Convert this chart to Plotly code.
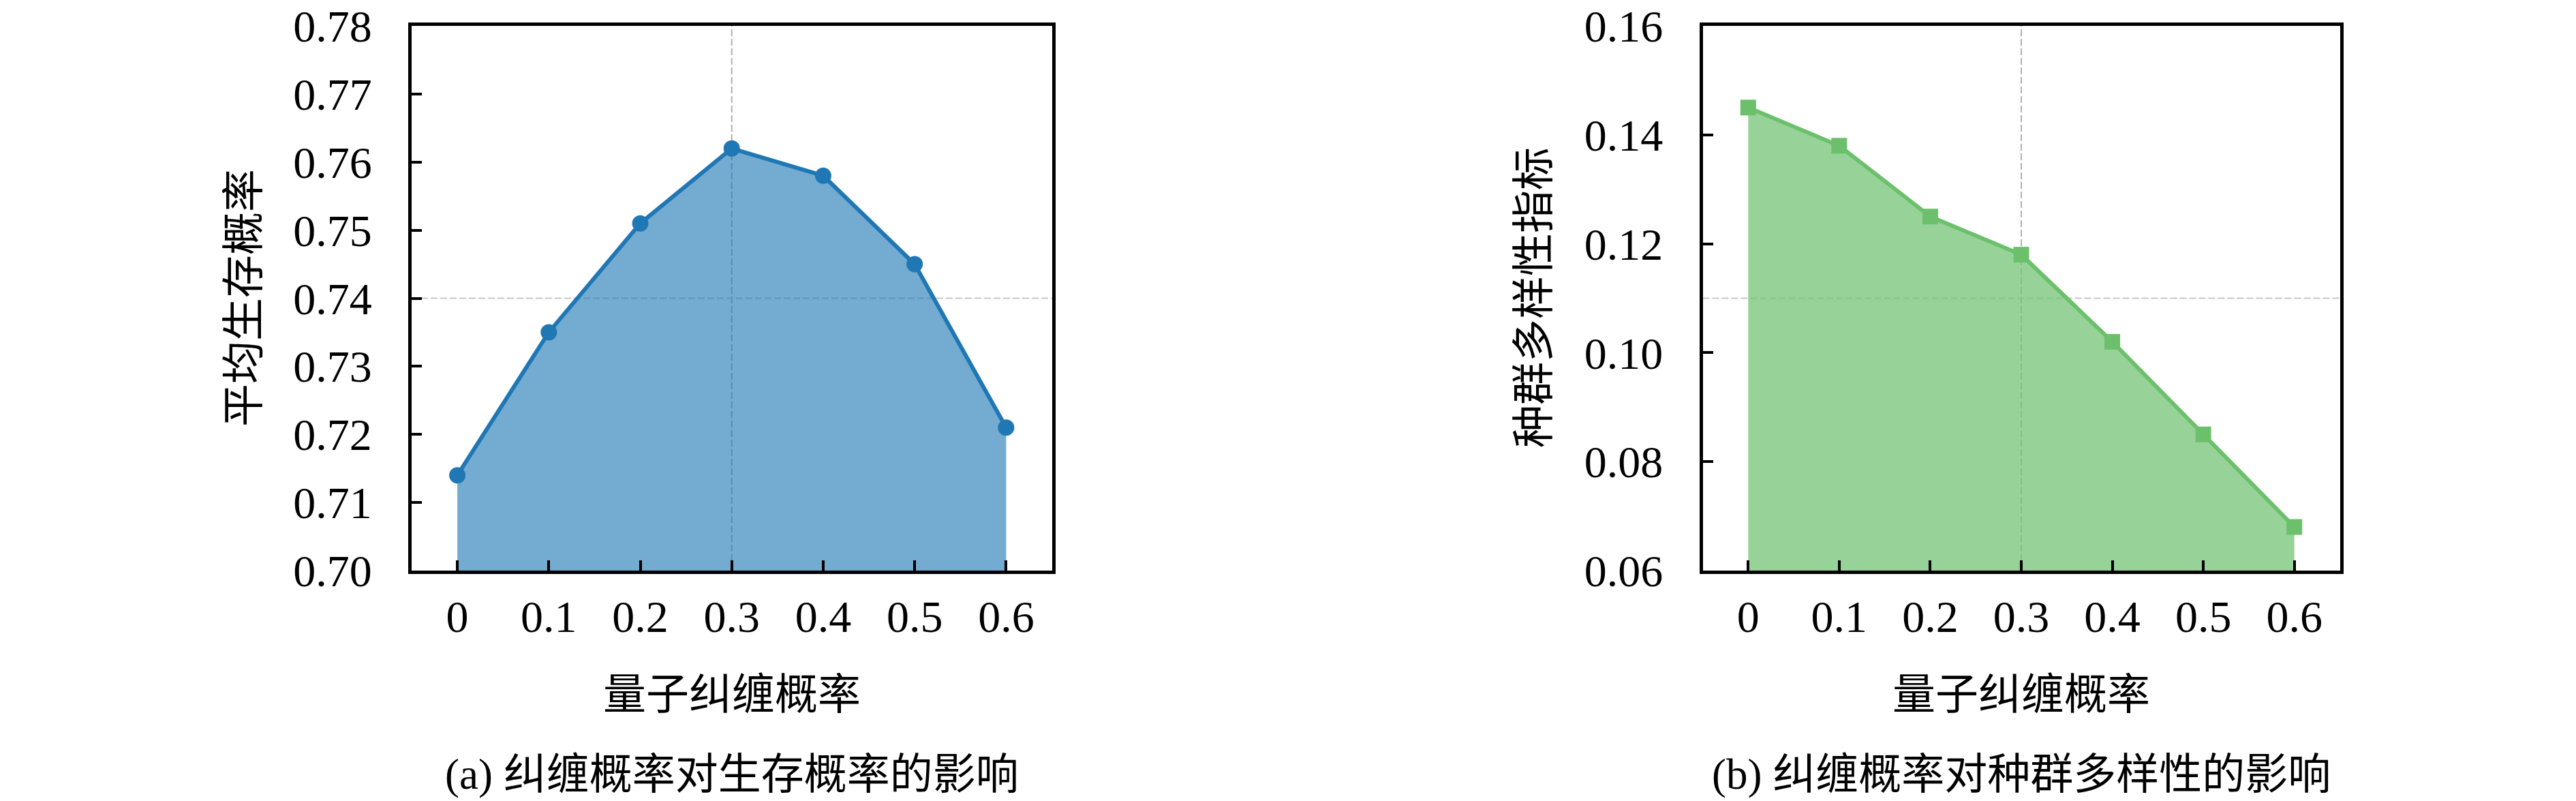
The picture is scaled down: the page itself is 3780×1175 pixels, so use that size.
import plotly.graph_objects as go

# ---------------- data ----------------
entangle_prob = [0.0, 0.1, 0.2, 0.3, 0.4, 0.5, 0.6]
x_ticktext = ["0", "0.1", "0.2", "0.3", "0.4", "0.5", "0.6"]

survival = [0.714, 0.735, 0.751, 0.762, 0.758, 0.745, 0.721]
survival_ticks = [0.70, 0.71, 0.72, 0.73, 0.74, 0.75, 0.76, 0.77, 0.78]
survival_ticktext = ["0.70", "0.71", "0.72", "0.73", "0.74", "0.75", "0.76", "0.77", "0.78"]

diversity = [0.145, 0.138, 0.125, 0.118, 0.102, 0.085, 0.068]
diversity_ticks = [0.06, 0.08, 0.10, 0.12, 0.14, 0.16]
diversity_ticktext = ["0.06", "0.08", "0.10", "0.12", "0.14", "0.16"]

x_title = "量子纠缠概率"
y_title_a = "平均生存概率"
y_title_b = "种群多样性指标"
caption_a = "(a) 纠缠概率对生存概率的影响"
caption_b = "(b) 纠缠概率对种群多样性的影响"

# ---------------- style ----------------
W, H = 3780, 1175
FONT = "Liberation Serif, Noto Sans CJK SC, serif"
TICK_SIZE = 66
TITLE_SIZE = 63
BLUE = "#1f77b4"
GREEN = "#6cc06c"

fig = go.Figure()

fig.add_trace(go.Scatter(
    x=entangle_prob, y=survival, mode="lines+markers",
    line=dict(color=BLUE, width=6),
    marker=dict(symbol="circle", size=24, color=BLUE),
    fill="tozeroy", fillcolor="rgba(31,119,180,0.62)",
    xaxis="x", yaxis="y", showlegend=False,
))
fig.add_trace(go.Scatter(
    x=entangle_prob, y=diversity, mode="lines+markers",
    line=dict(color=GREEN, width=6),
    marker=dict(symbol="square", size=23, color=GREEN),
    fill="tozeroy", fillcolor="rgba(116,196,118,0.75)",
    xaxis="x2", yaxis="y2", showlegend=False,
))

ydom = [1 - 837 / H, 1 - 38 / H]
xdom1 = [604 / W, 1543.5 / W]
xdom2 = [2498.5 / W, 3433.5 / W]

common_axis = dict(
    showline=True, linecolor="black", linewidth=5, mirror=True,
    ticks="inside", ticklen=15, tickwidth=4, tickcolor="black",
    showgrid=False, zeroline=False, automargin=False,
    tickfont=dict(family=FONT, size=TICK_SIZE, color="black"),
)

fig.update_layout(
    width=W, height=H,
    margin=dict(l=0, r=0, t=0, b=0, autoexpand=False),
    paper_bgcolor="white", plot_bgcolor="white",
    xaxis=dict(domain=xdom1, range=[-0.05, 0.65], anchor="y",
               tickvals=entangle_prob, ticktext=x_ticktext,
               ticklabelstandoff=6, **common_axis),
    yaxis=dict(domain=ydom, range=[0.70, 0.78], anchor="x",
               tickvals=survival_ticks, ticktext=survival_ticktext,
               ticklabelstandoff=40, **common_axis),
    xaxis2=dict(domain=xdom2, range=[-0.05, 0.65], anchor="y2",
                tickvals=entangle_prob, ticktext=x_ticktext,
                ticklabelstandoff=6, **common_axis),
    yaxis2=dict(domain=ydom, range=[0.06, 0.16], anchor="x2",
                tickvals=diversity_ticks, ticktext=diversity_ticktext,
                ticklabelstandoff=40, **common_axis),
)

# reference dashed lines
grid_v = dict(color="#b0b0b0", width=2, dash="10px,4px")
grid_h = dict(color="#c8c8c8", width=2, dash="10px,4px")
fig.add_shape(type="line", xref="x", yref="y domain", x0=0.3, x1=0.3, y0=0, y1=1,
              line=grid_v, layer="below")
fig.add_shape(type="line", xref="x domain", yref="y", x0=0, x1=1, y0=0.74, y1=0.74,
              line=grid_h, layer="below")
fig.add_shape(type="line", xref="x2", yref="y2 domain", x0=0.3, x1=0.3, y0=0, y1=1,
              line=grid_v, layer="below")
fig.add_shape(type="line", xref="x2 domain", yref="y2", x0=0, x1=1, y0=0.11, y1=0.11,
              line=grid_h, layer="below")

tfont = dict(family=FONT, size=TITLE_SIZE, color="black")
ymid = 1 - 437 / H
ann = [
    dict(text=y_title_a, x=358 / W, y=ymid, textangle=-90),
    dict(text=y_title_b, x=2251 / W, y=ymid, textangle=-90),
    dict(text=x_title, x=(xdom1[0] + xdom1[1]) / 2, y=1 - 1019 / H),
    dict(text=x_title, x=(xdom2[0] + xdom2[1]) / 2, y=1 - 1019 / H),
    dict(text=caption_a, x=(xdom1[0] + xdom1[1]) / 2, y=1 - 1136 / H),
    dict(text=caption_b, x=(xdom2[0] + xdom2[1]) / 2, y=1 - 1136 / H),
]
for a in ann:
    fig.add_annotation(xref="paper", yref="paper", showarrow=False,
                       xanchor="center", yanchor="middle", font=tfont, **a)

fig.write_html("out.html",
               config={"displayModeBar": False},
               post_script="document.body.style.margin='0';document.body.style.overflow='hidden';")
